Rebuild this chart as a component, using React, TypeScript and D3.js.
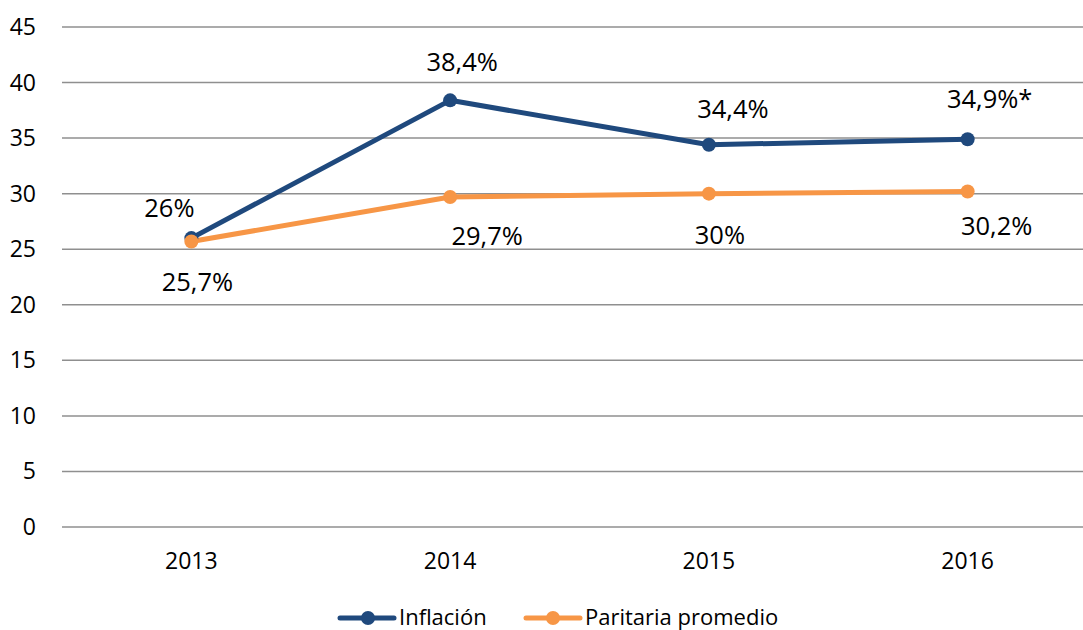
import React from "react";
import * as d3 from "d3";

const years = ["2013", "2014", "2015", "2016"];
const inflacion = [26, 38.4, 34.4, 34.9];
const paritaria = [25.7, 29.7, 30, 30.2];
const inflacionLabels = ["26%", "38,4%", "34,4%", "34,9%*"];
const paritariaLabels = ["25,7%", "29,7%", "30%", "30,2%"];
const yTicks = [0, 5, 10, 15, 20, 25, 30, 35, 40, 45];

// label offsets (dx, dy baseline) relative to point
const infOffsets = [[-22, -21], [12, -29], [24, -26.5], [22, -31]];
const parOffsets = [[6, 50], [37, 48], [11, 50], [29, 43.5]];

const W = 1083;
const H = 630;
const FONT = "'Open Sans', sans-serif";
const BLUE = "#1F497D";
const ORANGE = "#F79646";
const LABEL_SIZE = 25.5;
const AXIS_SIZE = 23;

export default function App() {
  const x = d3.scaleBand<string>().domain(years).range([62, 1097]);
  const y = d3.scaleLinear().domain([0, 45]).range([527, 27]);
  const cx = (d: string) => (x(d) as number) + x.bandwidth() / 2;
  const line = d3
    .line<number>()
    .x((_, i) => cx(years[i]))
    .y((v) => y(v));

  return (
    <svg
      width={W}
      height={H}
      style={{ position: "absolute", left: 0, top: 0, background: "#fff" }}
      fontFamily={FONT}
    >
      {yTicks.map((t) => (
        <g key={t}>
          <line x1={62} x2={W} y1={y(t)} y2={y(t)} stroke="#8f8f8f" strokeWidth={1.5} />
          <text x={36} y={y(t)} dy="0.35em" textAnchor="end" fontSize={AXIS_SIZE} fill="#000">
            {t}
          </text>
        </g>
      ))}
      {years.map((yr) => (
        <text key={yr} x={cx(yr)} y={569} textAnchor="middle" fontSize={AXIS_SIZE} fill="#000">
          {yr}
        </text>
      ))}
      <path d={line(paritaria) as string} fill="none" stroke={ORANGE} strokeWidth={5} strokeLinejoin="round" strokeLinecap="round" />
      <path d={line(inflacion) as string} fill="none" stroke={BLUE} strokeWidth={5} strokeLinejoin="round" strokeLinecap="round" />
      {inflacion.map((v, i) => (
        <circle key={"i" + i} cx={cx(years[i])} cy={y(v)} r={7} fill={BLUE} />
      ))}
      {paritaria.map((v, i) => (
        <circle key={"p" + i} cx={cx(years[i])} cy={y(v)} r={7} fill={ORANGE} />
      ))}
      {inflacion.map((v, i) => (
        <text key={"il" + i} x={cx(years[i]) + infOffsets[i][0]} y={y(v) + infOffsets[i][1]} textAnchor="middle" fontSize={LABEL_SIZE} fill="#000">
          {inflacionLabels[i]}
        </text>
      ))}
      {paritaria.map((v, i) => (
        <text key={"pl" + i} x={cx(years[i]) + parOffsets[i][0]} y={y(v) + parOffsets[i][1]} textAnchor="middle" fontSize={LABEL_SIZE} fill="#000">
          {paritariaLabels[i]}
        </text>
      ))}
      <g>
        <line x1={340} x2={394} y1={618} y2={618} stroke={BLUE} strokeWidth={5} strokeLinecap="round" />
        <circle cx={368} cy={618} r={7} fill={BLUE} />
        <text x={399} y={625} fontSize={22} fill="#000">Inflación</text>
        <line x1={526} x2={580} y1={618} y2={618} stroke={ORANGE} strokeWidth={5} strokeLinecap="round" />
        <circle cx={553} cy={618} r={7} fill={ORANGE} />
        <text x={585} y={625} fontSize={22} fill="#000">Paritaria promedio</text>
      </g>
    </svg>
  );
}
